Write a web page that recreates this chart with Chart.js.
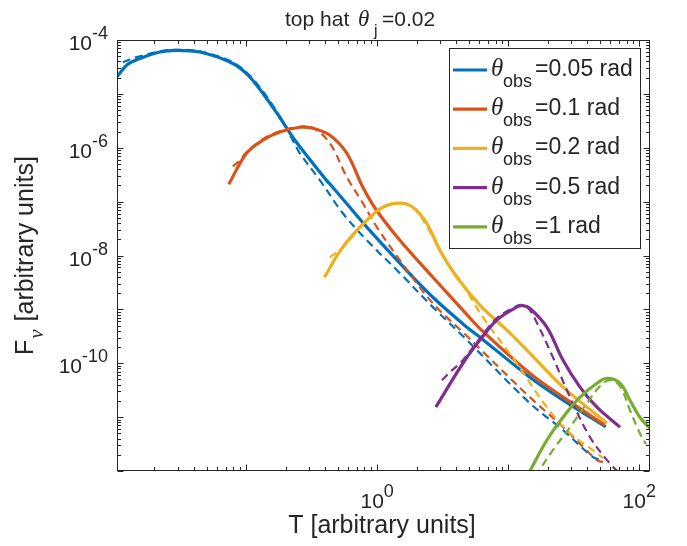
<!DOCTYPE html>
<html>
<head>
<meta charset="utf-8">
<script src="https://cdn.jsdelivr.net/npm/chart.js@4.4.1/dist/chart.umd.min.js"></script>
<style>
  html, body { margin: 0; padding: 0; background: #fff; }
</style>
</head>
<body>
<canvas id="grafico" width="687" height="546"></canvas>
<script>
// angulos de observacion y colores de cada serie
const angulos = ['0.05', '0.1', '0.2', '0.5', '1'];
const colores = ['#0072BD', '#D95319', '#EDB120', '#7E2F8E', '#77AC30'];

// exponentes con etiqueta en cada eje
const etiquetasX = [0, 2];
const etiquetasY = [-4, -6, -8, -10];

// theta_obs = 0.05 (continua / discontinua)
const t005 = [0.01035, 0.0125, 0.01545, 0.0219, 0.0294, 0.0443, 0.0751, 0.1007, 0.134, 0.1805, 0.227, 0.323, 0.411, 0.458, 0.587, 0.830, 1.49, 2.66, 4.84, 6.08, 14.6, 26.2, 55.4];
const f005 = [2.08e-5, 3.54e-5, 4.52e-5, 5.99e-5, 6.44e-5, 5.99e-5, 3.91e-5, 2.38e-5, 1.03e-5, 3.68e-6, 1.57e-6, 5.16e-7, 2.48e-7, 1.85e-7, 9.1e-8, 3.40e-8, 7.19e-9, 1.68e-9, 4.67e-10, 3.05e-10, 5.52e-11, 2.07e-11, 6.6e-12];
const t005d = [0.01145, 0.01365, 0.01545, 0.0219, 0.0294, 0.0443, 0.0751, 0.1007, 0.134, 0.1805, 0.227, 0.257, 0.366, 0.547, 0.834, 1.49, 2.66, 4.84, 14.6, 26.2, 44.3, 51.9];
const f005d = [3.85e-5, 4.57e-5, 4.99e-5, 6.16e-5, 6.58e-5, 6.16e-5, 4.11e-5, 2.52e-5, 1.12e-5, 3.84e-6, 1.38e-6, 7.9e-7, 2.49e-7, 6.09e-8, 1.92e-8, 4.70e-9, 1.10e-9, 2.69e-10, 1.82e-11, 5.74e-12, 1.81e-12, 1.59e-12];

// theta_obs = 0.1
const t01 = [0.0738, 0.1007, 0.134, 0.1805, 0.257, 0.323, 0.436, 0.587, 0.778, 0.989, 1.49, 2.66, 4.84, 6.08, 14.6, 26.2, 54.7];
const f01 = [2.10e-7, 7.9e-7, 1.38e-6, 1.96e-6, 2.40e-6, 2.30e-6, 1.71e-6, 7.9e-7, 1.85e-7, 6.92e-8, 1.92e-8, 3.95e-9, 8.0e-10, 4.4e-10, 6.55e-11, 2.35e-11, 7.1e-12];
const t01d = [0.0791, 0.0895, 0.1007, 0.134, 0.1805, 0.257, 0.323, 0.436, 0.587, 0.778, 0.995, 1.49, 2.66, 4.84, 6.08, 14.6, 26.2, 47.5, 52.8];
const f01d = [4.50e-7, 5.81e-7, 8.26e-7, 1.44e-6, 2.02e-6, 2.45e-6, 2.35e-6, 1.21e-6, 2.84e-7, 9.34e-8, 3.35e-8, 8.18e-9, 1.30e-9, 3.2e-10, 1.85e-10, 2.35e-11, 6.55e-12, 1.59e-12, 1.46e-12];

// theta_obs = 0.2
const t02 = [0.396, 0.546, 0.834, 1.106, 1.49, 1.87, 2.39, 3.01, 4.06, 6.08, 9.77, 14.6, 26.2, 56.7];
const f02 = [3.95e-9, 1.43e-8, 4.52e-8, 7.87e-8, 9.34e-8, 7.87e-8, 3.97e-8, 1.25e-8, 3.95e-9, 1.20e-9, 4.11e-10, 1.54e-10, 3.61e-11, 7.74e-12];
const t02d = [0.436, 0.546, 0.834, 1.106, 1.49, 1.87, 2.39, 3.17, 4.51, 6.41, 11.6, 19.7, 29.6, 44.3, 52.8];
const f02d = [9.27e-9, 1.40e-8, 4.52e-8, 7.87e-8, 9.34e-8, 7.87e-8, 3.49e-8, 1.01e-8, 2.81e-9, 7.16e-10, 1.0e-10, 1.53e-11, 5.04e-12, 2.44e-12, 1.73e-12];

// theta_obs = 0.5
const t05 = [2.80, 4.51, 6.08, 8.18, 11.6, 12.9, 14.6, 19.7, 26.2, 35.3, 47.5, 71.3];
const f05 = [1.53e-11, 1.00e-10, 2.69e-10, 6.31e-10, 1.10e-9, 1.17e-9, 1.05e-9, 4.68e-10, 1.14e-10, 3.61e-11, 1.53e-11, 6.52e-12];
const t05d = [3.12, 3.59, 4.51, 6.08, 8.18, 11.6, 12.9, 14.6, 16.6, 21.9, 29.6, 42.0, 56.7, 71.3];
const f05d = [4.85e-11, 6.8e-11, 1.14e-10, 2.92e-10, 6.87e-10, 1.15e-9, 1.2e-9, 9.66e-10, 5.55e-10, 1.30e-10, 2.35e-11, 4.27e-12, 1.59e-12, 8.8e-13];

// theta_obs = 1
const t1 = [13.9, 19.7, 26.2, 35.3, 47.5, 56.7, 71.3, 84.9, 101, 120.7];
const f1 = [7.9e-13, 3.72e-12, 9.95e-12, 2.34e-11, 4.26e-11, 5.27e-11, 4.26e-11, 2.06e-11, 9.95e-12, 6.22e-12];
const t1d = [16.0, 21.9, 29.6, 39.9, 50.1, 59.7, 71.3, 84.9, 101, 112.5];
const f1d = [7.9e-13, 2.43e-12, 6.5e-12, 1.81e-11, 3.74e-11, 4.84e-11, 3.74e-11, 1.34e-11, 5.02e-12, 3.14e-12];

const continuas = [[t005, f005], [t01, f01], [t02, f02], [t05, f05], [t1, f1]];
const discontinuas = [[t005d, f005d], [t01d, f01d], [t02d, f02d], [t05d, f05d], [t1d, f1d]];

const colorTexto = '#262626';
const sans = '"Liberation Sans", Arial, sans-serif';
const serif = '"Liberation Serif", "Times New Roman", serif';

function puntos(t, f) {
  return t.map((x, i) => ({ x: x, y: f[i] }));
}

let datasets = [];
angulos.forEach((a, i) => {
  datasets.push({
    label: 'obs ' + a,
    data: puntos(continuas[i][0], continuas[i][1]),
    borderColor: colores[i],
    borderWidth: 3.2,
    pointRadius: 0,
    fill: false,
    tension: 0.35,
    clip: 0,
    order: 100 - 2 * i
  });
  datasets.push({
    label: 'obs ' + a + ' aprox',
    data: puntos(discontinuas[i][0], discontinuas[i][1]),
    borderColor: colores[i],
    borderWidth: 2.2,
    borderDash: [8, 5],
    pointRadius: 0,
    fill: false,
    tension: 0.35,
    clip: 0,
    order: 99 - 2 * i
  });
});

// 10 con exponente
function potencia(ctx, exp, x, y, align) {
  ctx.font = '21px ' + sans;
  const wBase = ctx.measureText('10').width;
  ctx.font = '18px ' + sans;
  const wExp = ctx.measureText(String(exp)).width;
  const total = wBase + wExp;
  let x0 = x;
  if (align === 'center') x0 = x - total / 2;
  if (align === 'right') x0 = x - total;
  ctx.textAlign = 'left';
  ctx.font = '21px ' + sans;
  ctx.fillText('10', x0, y);
  ctx.font = '18px ' + sans;
  ctx.fillText(String(exp), x0 + wBase, y - 11);
}

const marco = {
  id: 'marco',
  afterDatasetsDraw(chart) {
    const ctx = chart.ctx;
    const { left, right, top, bottom } = chart.chartArea;
    const ejeX = chart.scales.x, ejeY = chart.scales.y;
    ctx.save();
    ctx.strokeStyle = colorTexto;
    ctx.lineWidth = 1;
    const l = Math.round(left) + 0.5, r = Math.round(right) - 0.5;
    const t = Math.round(top) + 0.5, b = Math.round(bottom) - 0.5;
    ctx.strokeRect(l, t, r - l, b - t);

    // marcas hacia dentro en los cuatro lados
    ctx.beginPath();
    for (let d = -2; d <= 2; d++) {
      for (let m = 1; m <= 9; m++) {
        const v = m * Math.pow(10, d);
        if (v < ejeX.min || v > ejeX.max) continue;
        const px = Math.round(ejeX.getPixelForValue(v)) + 0.5;
        const len = m === 1 ? 6 : 3.5;
        ctx.moveTo(px, b); ctx.lineTo(px, b - len);
        ctx.moveTo(px, t); ctx.lineTo(px, t + len);
      }
    }
    for (let d = -12; d <= -4; d++) {
      for (let m = 1; m <= 9; m++) {
        const v = m * Math.pow(10, d);
        if (v < ejeY.min * 0.999 || v > ejeY.max * 1.001) continue;
        const py = Math.round(ejeY.getPixelForValue(v)) + 0.5;
        const len = m === 1 ? 6 : 3.5;
        ctx.moveTo(l, py); ctx.lineTo(l + len, py);
        ctx.moveTo(r, py); ctx.lineTo(r - len, py);
      }
    }
    ctx.stroke();

    ctx.fillStyle = colorTexto;
    ctx.textBaseline = 'alphabetic';
    etiquetasX.forEach(e => {
      potencia(ctx, e, ejeX.getPixelForValue(Math.pow(10, e)), bottom + 37, 'center');
    });
    etiquetasY.forEach(e => {
      potencia(ctx, e, left - 9, ejeY.getPixelForValue(Math.pow(10, e)) + 10, 'right');
    });

    // titulo
    ctx.textAlign = 'left';
    ctx.font = '21px ' + sans;
    ctx.fillText('top hat', 285, 26);
    ctx.font = 'italic 23px ' + serif;
    ctx.fillText('\u03b8', 358, 26);
    ctx.font = '16px ' + sans;
    ctx.fillText('j', 374, 36);
    ctx.font = '21px ' + sans;
    ctx.fillText('=0.02', 382, 26);

    // etiqueta eje x
    ctx.font = '25px ' + sans;
    ctx.textAlign = 'center';
    ctx.fillText('T [arbitrary units]', 382, 533);

    // etiqueta eje y (girada)
    ctx.save();
    ctx.translate(33, 355);
    ctx.rotate(-Math.PI / 2);
    ctx.textAlign = 'left';
    ctx.font = '25px ' + sans;
    ctx.fillText('F', 0, 0);
    const wF = ctx.measureText('F').width;
    ctx.font = 'italic 21px ' + serif;
    ctx.fillText('\u03bd', wF + 1, 10);
    const wNu = ctx.measureText('\u03bd').width;
    ctx.font = '25px ' + sans;
    ctx.fillText(' [arbitrary units]', wF + wNu + 2, 0);
    ctx.restore();

    // leyenda
    const lx = 449.5, ly = 48.5, lw = 191, lh = 200;
    ctx.fillStyle = '#ffffff';
    ctx.fillRect(lx, ly, lw, lh);
    ctx.strokeStyle = colorTexto;
    ctx.strokeRect(lx, ly, lw, lh);
    angulos.forEach((a, i) => {
      const fy = 70 + 39.2 * i;
      ctx.strokeStyle = colores[i];
      ctx.lineWidth = 3.2;
      ctx.beginPath();
      ctx.moveTo(453, fy);
      ctx.lineTo(487, fy);
      ctx.stroke();
      ctx.fillStyle = colorTexto;
      ctx.textAlign = 'left';
      ctx.font = 'italic 25px ' + serif;
      ctx.fillText('\u03b8', 491, fy + 6);
      ctx.font = '18px ' + sans;
      ctx.fillText('obs', 503, fy + 17);
      ctx.font = '23px ' + sans;
      ctx.fillText('=' + a + ' rad', 535, fy + 6);
    });
    ctx.restore();
  }
};

new Chart(document.getElementById('grafico'), {
  type: 'line',
  data: { datasets: datasets },
  options: {
    responsive: false,
    animation: false,
    devicePixelRatio: 1,
    layout: { padding: { left: 117, top: 40, right: 37, bottom: 75 } },
    plugins: {
      legend: { display: false },
      tooltip: { enabled: false }
    },
    scales: {
      x: { type: 'logarithmic', min: 0.01035, max: 120.7, display: false },
      y: { type: 'logarithmic', min: 1e-12, max: 1e-4, display: false }
    }
  },
  plugins: [marco]
});
</script>
</body>
</html>
